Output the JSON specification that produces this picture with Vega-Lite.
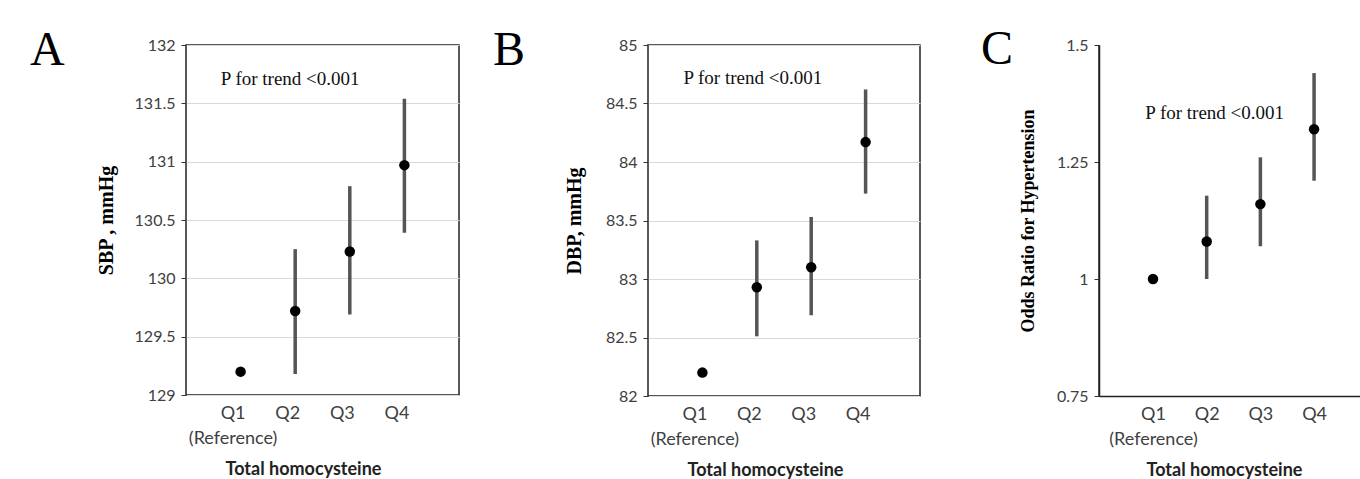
{
  "$schema": "https://vega.github.io/schema/vega-lite/v6.json",
  "padding": {"left": 29, "top": 26, "right": 0, "bottom": 0},
  "background": "white",
  "bounds": "flush",
  "spacing": 189,
  "config": {
    "view": {"stroke": "#222", "strokeWidth": 1.5},
    "axis": {"labelFont": "Lato", "labelColor": "#404040", "gridColor": "#d9d9d9", "gridWidth": 1, "domain": false, "tickColor": "#333", "titleColor": "black"},
    "axisX": {"ticks": false, "labelFontSize": 18, "labelPadding": 9, "labelLineHeight": 25, "labelAngle": 0, "titleFont": "Lato", "titleFontSize": 18, "titleFontWeight": "bold", "titlePadding": 13, "titleColor": "#222"},
    "axisY": {"labelFontSize": 16, "tickSize": 5, "labelPadding": 6, "titleFont": "Liberation Serif", "titleFontSize": 20, "titleFontWeight": "bold", "titlePadding": 18, "labelExpr": "'' + datum.value"},
    "title": {"font": "Liberation Serif", "fontSize": 48, "fontWeight": "normal", "anchor": "start", "frame": "group", "offset": 0, "baseline": "alphabetic", "color": "black"}
  },
  "hconcat": [
    {
      "width": 273, "height": 350,
      "title": {"text": "A", "dx": -156, "dy": 42},
      "data": {"values": [
        {"q": "Q1", "est": 129.2, "lo": null, "hi": null},
        {"q": "Q2", "est": 129.72, "lo": 129.18, "hi": 130.25},
        {"q": "Q3", "est": 130.23, "lo": 129.69, "hi": 130.79},
        {"q": "Q4", "est": 130.97, "lo": 130.39, "hi": 131.54}
      ]},
      "encoding": {
        "x": {"field": "q", "type": "nominal", "scale": {"type": "point", "padding": 1, "domain": ["Q1", "Q2", "Q3", "Q4"]},
          "axis": {"title": "Total homocysteine", "titleX": 117, "labelOffset": -8, "labelExpr": "datum.value == 'Q1' ? ['Q1', '(Reference)'] : datum.value"}}
      },
      "layer": [
        {
          "transform": [{"filter": "isValid(datum.lo)"}],
          "mark": {"type": "rule", "strokeWidth": 3.5, "color": "#555"},
          "encoding": {
            "y": {"field": "lo", "type": "quantitative", "scale": {"domain": [129, 132], "nice": false, "zero": false},
              "axis": {"title": "SBP , mmHg", "titlePadding": 18, "values": [129, 129.5, 130, 130.5, 131, 131.5, 132]}},
            "y2": {"field": "hi"}
          }
        },
        {
          "mark": {"type": "point", "filled": true, "size": 110, "color": "black", "opacity": 1},
          "encoding": {"y": {"field": "est", "type": "quantitative"}}
        },
        {
          "data": {"values": [{"note": "P for trend <0.001"}]},
          "mark": {"type": "text", "font": "Liberation Serif", "fontSize": 19, "color": "#111", "align": "center", "baseline": "middle", "dx": -5},
          "encoding": {"x": {"datum": "Q2"}, "y": {"datum": 131.71}, "text": {"field": "note"}}
        }
      ]
    },
    {
      "bounds": "flush",
      "spacing": 179,
      "hconcat": [
        {
          "width": 272, "height": 351,
          "title": {"text": "B", "dx": -155, "dy": 42},
          "data": {"values": [
            {"q": "Q1", "est": 82.2, "lo": null, "hi": null},
            {"q": "Q2", "est": 82.93, "lo": 82.51, "hi": 83.33},
            {"q": "Q3", "est": 83.1, "lo": 82.69, "hi": 83.53},
            {"q": "Q4", "est": 84.17, "lo": 83.73, "hi": 84.62}
          ]},
          "encoding": {
            "x": {"field": "q", "type": "nominal", "scale": {"type": "point", "padding": 1, "domain": ["Q1", "Q2", "Q3", "Q4"]},
              "axis": {"title": "Total homocysteine", "titleX": 117, "labelOffset": -8, "labelExpr": "datum.value == 'Q1' ? ['Q1', '(Reference)'] : datum.value"}}
          },
          "layer": [
            {
              "transform": [{"filter": "isValid(datum.lo)"}],
              "mark": {"type": "rule", "strokeWidth": 3.5, "color": "#555"},
              "encoding": {
                "y": {"field": "lo", "type": "quantitative", "scale": {"domain": [82, 85], "nice": false, "zero": false},
                  "axis": {"title": "DBP, mmHg", "titlePadding": 21, "values": [82, 82.5, 83, 83.5, 84, 84.5, 85]}},
                "y2": {"field": "hi"}
              }
            },
            {
              "mark": {"type": "point", "filled": true, "size": 110, "color": "black", "opacity": 1},
              "encoding": {"y": {"field": "est", "type": "quantitative"}}
            },
            {
              "data": {"values": [{"note": "P for trend <0.001"}]},
              "mark": {"type": "text", "font": "Liberation Serif", "fontSize": 19, "color": "#111", "align": "center", "baseline": "middle", "dx": -4},
              "encoding": {"x": {"datum": "Q2"}, "y": {"datum": 84.715}, "text": {"field": "note"}}
            }
          ]
        },
        {
          "width": 262, "height": 351,
          "view": {"stroke": null},
          "title": {"text": "C", "dx": -118, "dy": 41},
          "data": {"values": [
            {"q": "Q1", "est": 1.0, "lo": null, "hi": null},
            {"q": "Q2", "est": 1.08, "lo": 1.0, "hi": 1.178},
            {"q": "Q3", "est": 1.16, "lo": 1.07, "hi": 1.26},
            {"q": "Q4", "est": 1.32, "lo": 1.21, "hi": 1.44}
          ]},
          "encoding": {
            "x": {"field": "q", "type": "nominal", "scale": {"type": "point", "padding": 0.94, "align": 0.535, "domain": ["Q1", "Q2", "Q3", "Q4"]},
              "axis": {"title": "Total homocysteine", "titleX": 125, "domain": true, "domainColor": "#222", "domainWidth": 1.5, "labelExpr": "datum.value == 'Q1' ? ['Q1', '(Reference)'] : datum.value"}}
          },
          "layer": [
            {
              "data": {"values": [{"edge": "top"}]},
              "mark": {"type": "rule", "color": "#222", "strokeWidth": 1.5},
              "encoding": {"y": {"datum": 1.5}}
            },
            {
              "transform": [{"filter": "isValid(datum.lo)"}],
              "mark": {"type": "rule", "strokeWidth": 3.5, "color": "#555"},
              "encoding": {
                "y": {"field": "lo", "type": "quantitative", "scale": {"domain": [0.75, 1.5], "nice": false, "zero": false},
                  "axis": {"title": "Odds Ratio for Hypertension", "titlePadding": 19, "titleFontSize": 18, "domain": true, "domainColor": "#222", "domainWidth": 1.5, "values": [0.75, 1, 1.25, 1.5]}},
                "y2": {"field": "hi"}
              }
            },
            {
              "mark": {"type": "point", "filled": true, "size": 110, "color": "black", "opacity": 1},
              "encoding": {"y": {"field": "est", "type": "quantitative"}}
            },
            {
              "data": {"values": [{"note": "P for trend <0.001"}]},
              "mark": {"type": "text", "font": "Liberation Serif", "fontSize": 19, "color": "#111", "align": "center", "baseline": "middle", "dx": 8},
              "encoding": {"x": {"datum": "Q2"}, "y": {"datum": 1.355}, "text": {"field": "note"}}
            }
          ]
        }
      ]
    }
  ]
}
